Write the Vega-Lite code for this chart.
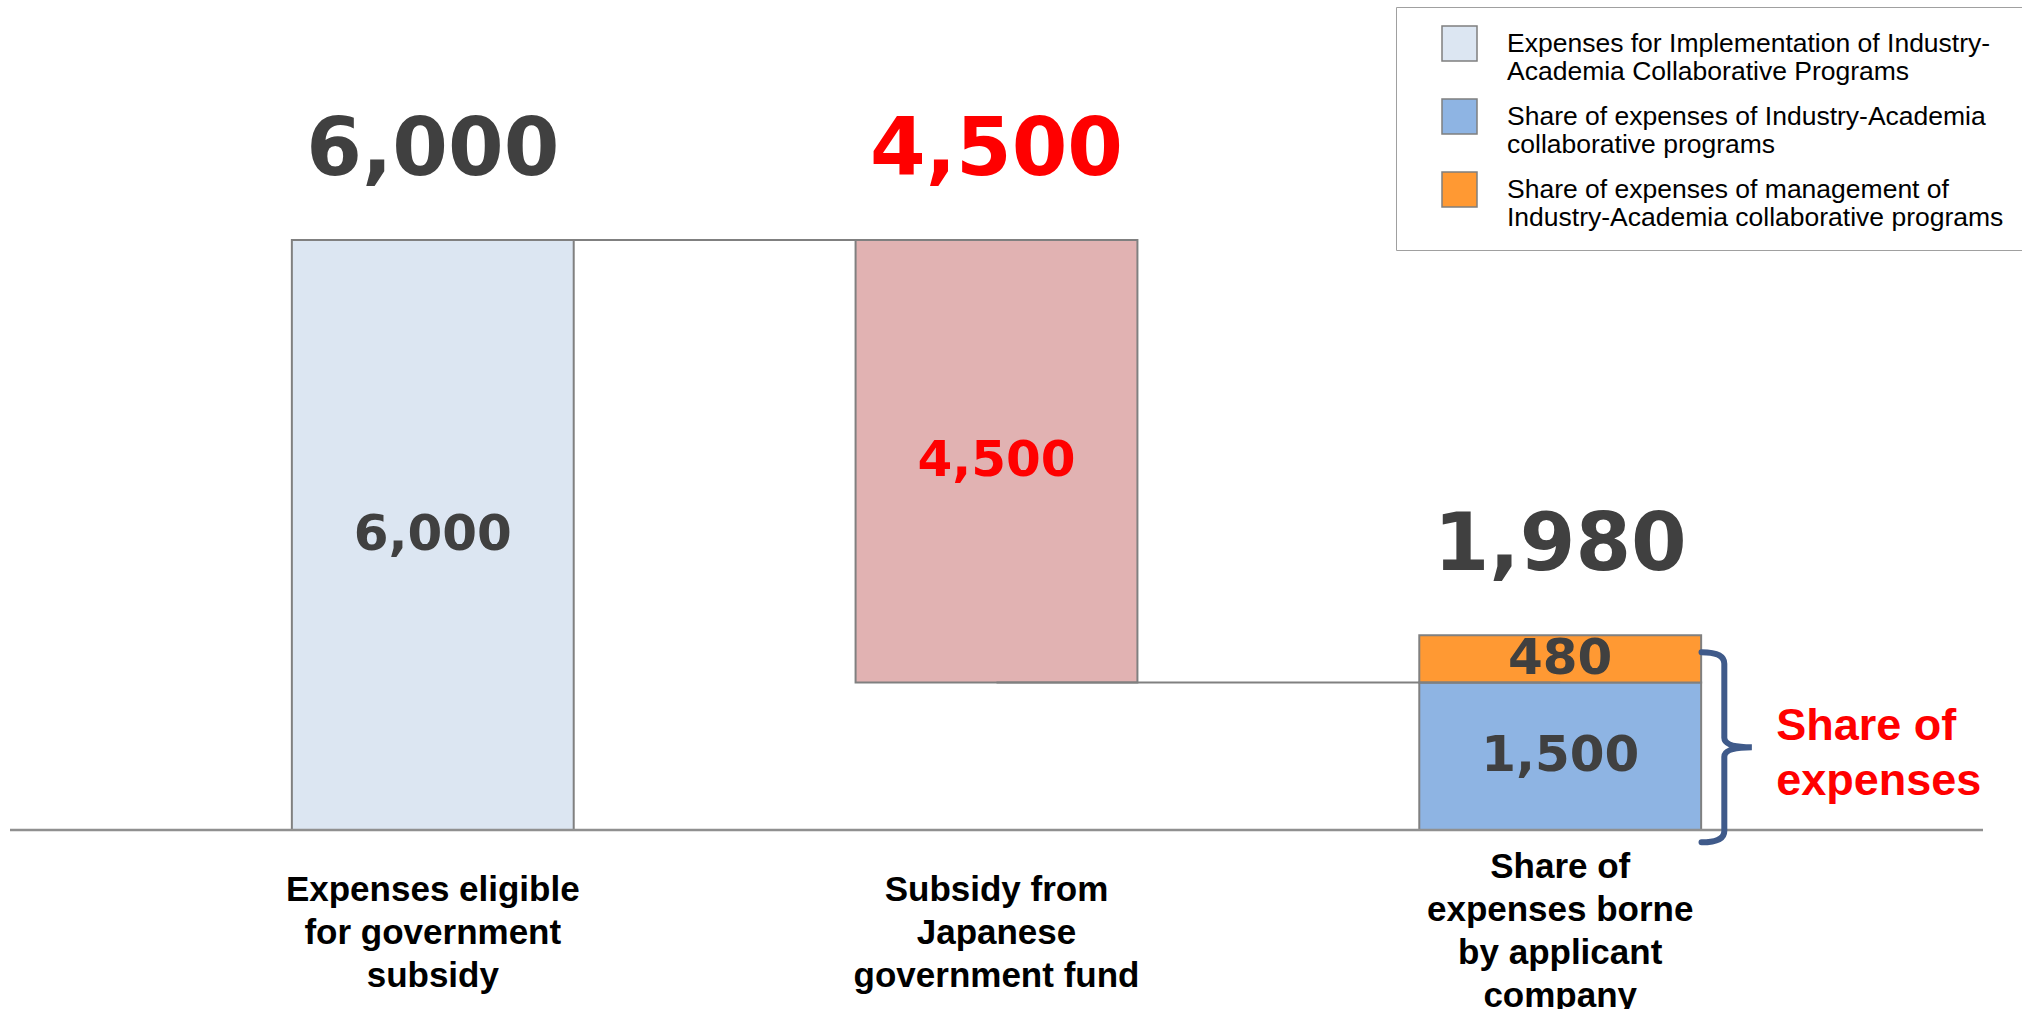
{
  "$schema": "https://vega.github.io/schema/vega-lite/v6.json",
  "width": 1973,
  "height": 1009,
  "autosize": {"type": "none"},
  "padding": {"left": 10, "right": 39, "top": 0, "bottom": 0},
  "background": "white",
  "config": {
    "view": {"stroke": null},
    "font": "Liberation Sans"
  },
  "datasets": {
    "segments": [
      {"category": "Expenses eligible\nfor government\nsubsidy", "series": "Expenses for Implementation of Industry-\nAcademia Collaborative Programs", "start": 0, "end": 6000, "label": "6,000"},
      {"category": "Subsidy from\nJapanese\ngovernment fund", "series": "Subsidy from Japanese government fund", "start": 1500, "end": 6000, "label": "4,500"},
      {"category": "Share of\nexpenses borne\nby applicant\ncompany", "series": "Share of expenses of Industry-Academia\ncollaborative programs", "start": 0, "end": 1500, "label": "1,500"},
      {"category": "Share of\nexpenses borne\nby applicant\ncompany", "series": "Share of expenses of management of\nIndustry-Academia collaborative programs", "start": 1500, "end": 1980, "label": "480"}
    ],
    "totals": [
      {"category": "Expenses eligible\nfor government\nsubsidy", "series": "Expenses for Implementation of Industry-\nAcademia Collaborative Programs", "top": 6000, "label": "6,000"},
      {"category": "Subsidy from\nJapanese\ngovernment fund", "series": "Subsidy from Japanese government fund", "top": 6000, "label": "4,500"},
      {"category": "Share of\nexpenses borne\nby applicant\ncompany", "series": "Share of expenses borne by applicant company", "top": 1980, "label": "1,980"}
    ],
    "links": [
      {"link": "top", "category": "Expenses eligible\nfor government\nsubsidy", "level": 6000},
      {"link": "top", "category": "Subsidy from\nJapanese\ngovernment fund", "level": 6000},
      {"link": "bottom", "category": "Subsidy from\nJapanese\ngovernment fund", "level": 1500},
      {"link": "bottom", "category": "Share of\nexpenses borne\nby applicant\ncompany", "level": 1500}
    ],
    "notes": [
      {"category": "Share of\nexpenses borne\nby applicant\ncompany", "note": "Share of\nexpenses"}
    ]
  },
  "layer": [
    {
      "data": {"name": "segments"},
      "mark": {"type": "bar", "stroke": "#808080", "strokeWidth": 2},
      "encoding": {
        "x": {
          "field": "category", "type": "nominal", "axis": null,
          "scale": {
            "domain": ["Expenses eligible\nfor government\nsubsidy", "Subsidy from\nJapanese\ngovernment fund", "Share of\nexpenses borne\nby applicant\ncompany"],
            "paddingInner": 0.5, "paddingOuter": 0.5
          }
        },
        "y": {"field": "start", "type": "quantitative", "axis": null, "scale": {"domain": [-1821, 8440], "nice": false, "zero": false}},
        "y2": {"field": "end"},
        "color": {
          "field": "series", "type": "nominal",
          "scale": {
            "domain": [
              "Expenses for Implementation of Industry-\nAcademia Collaborative Programs",
              "Subsidy from Japanese government fund",
              "Share of expenses of Industry-Academia\ncollaborative programs",
              "Share of expenses of management of\nIndustry-Academia collaborative programs"
            ],
            "range": ["#DCE6F2", "#E1B2B2", "#8EB4E3", "#FF9933"]
          },
          "legend": {
            "title": null,
            "orient": "none",
            "legendX": 1386,
            "legendY": 7,
            "values": [
              "Expenses for Implementation of Industry-\nAcademia Collaborative Programs",
              "Share of expenses of Industry-Academia\ncollaborative programs",
              "Share of expenses of management of\nIndustry-Academia collaborative programs"
            ],
            "labelExpr": "split(datum.label, '\\n')",
            "labelFont": "Liberation Sans",
            "labelFontSize": 26.5,
            "labelColor": "#000000",
            "labelLimit": 700,
            "labelOffset": 29,
            "symbolType": "square",
            "symbolSize": 1225,
            "symbolStrokeColor": "#7F7F7F",
            "symbolStrokeWidth": 1.5,
            "symbolOffset": 27,
            "padding": 18,
            "rowPadding": 10,
            "strokeColor": "#A0A0A0",
            "fillColor": "white"
          }
        }
      }
    },
    {
      "data": {"name": "links"},
      "mark": {"type": "line", "color": "#808080", "strokeWidth": 2},
      "encoding": {
        "x": {"field": "category", "type": "nominal", "axis": null},
        "y": {"field": "level", "type": "quantitative", "axis": null},
        "detail": {"field": "link", "type": "nominal"}
      }
    },
    {
      "data": {"name": "segments"},
      "transform": [{"fold": ["start", "end"], "as": ["edge", "v"]}],
      "mark": {"type": "text", "font": "DejaVu Sans", "fontWeight": "bold", "fontSize": 50, "baseline": "middle"},
      "encoding": {
        "x": {"field": "category", "type": "nominal", "axis": null},
        "y": {"aggregate": "mean", "field": "v", "type": "quantitative", "axis": null},
        "detail": {"field": "series", "type": "nominal"},
        "text": {"field": "label", "type": "nominal"},
        "color": {"condition": {"test": "datum.series === 'Subsidy from Japanese government fund'", "value": "#FF0000"}, "value": "#404040"}
      }
    },
    {
      "data": {"name": "totals"},
      "mark": {"type": "text", "font": "DejaVu Sans", "fontWeight": "bold", "fontSize": 80, "baseline": "alphabetic", "dy": -65},
      "encoding": {
        "x": {"field": "category", "type": "nominal", "axis": null},
        "y": {"field": "top", "type": "quantitative", "axis": null},
        "text": {"field": "label", "type": "nominal"},
        "color": {"condition": {"test": "datum.series === 'Subsidy from Japanese government fund'", "value": "#FF0000"}, "value": "#404040"}
      }
    },
    {
      "data": {"values": [{"category": "Expenses eligible\nfor government\nsubsidy"}, {"category": "Subsidy from\nJapanese\ngovernment fund"}]},
      "mark": {"type": "text", "font": "Liberation Sans", "fontWeight": "bold", "fontSize": 35, "baseline": "middle", "lineBreak": "\n", "lineHeight": 43, "dy": 60, "color": "#000000"},
      "encoding": {
        "x": {"field": "category", "type": "nominal", "axis": null},
        "y": {"datum": 0, "axis": null},
        "text": {"field": "category", "type": "nominal"}
      }
    },
    {
      "data": {"values": [{"category": "Share of\nexpenses borne\nby applicant\ncompany"}]},
      "mark": {"type": "text", "font": "Liberation Sans", "fontWeight": "bold", "fontSize": 35, "baseline": "middle", "lineBreak": "\n", "lineHeight": 43, "dy": 37, "color": "#000000"},
      "encoding": {
        "x": {"field": "category", "type": "nominal", "axis": null},
        "y": {"datum": 0, "axis": null},
        "text": {"field": "category", "type": "nominal"}
      }
    },
    {
      "data": {"name": "notes"},
      "mark": {"type": "rule", "color": "#909090", "strokeWidth": 2.5},
      "encoding": {"y": {"datum": 0, "axis": null}}
    },
    {
      "data": {"name": "notes"},
      "mark": {
        "type": "point",
        "shape": "M -0.26 -1 Q -0.02 -1 -0.02 -0.88 L -0.02 -0.1 Q -0.02 0 0.27 0 Q -0.02 0 -0.02 0.1 L -0.02 0.88 Q -0.02 1 -0.26 1",
        "size": 36100,
        "filled": false,
        "stroke": "#3F5A8A",
        "strokeWidth": 6,
        "strokeCap": "round",
        "opacity": 1,
        "xOffset": 166
      },
      "encoding": {
        "x": {"field": "category", "type": "nominal", "axis": null},
        "y": {"datum": 840, "axis": null}
      }
    },
    {
      "data": {"name": "notes"},
      "mark": {"type": "text", "font": "Liberation Sans", "fontWeight": "bold", "fontSize": 45, "align": "left", "baseline": "middle", "lineBreak": "\n", "lineHeight": 55, "dx": 216, "dy": -21, "color": "#FF0000"},
      "encoding": {
        "x": {"field": "category", "type": "nominal", "axis": null},
        "y": {"datum": 840, "axis": null},
        "text": {"field": "note", "type": "nominal"}
      }
    }
  ]
}
